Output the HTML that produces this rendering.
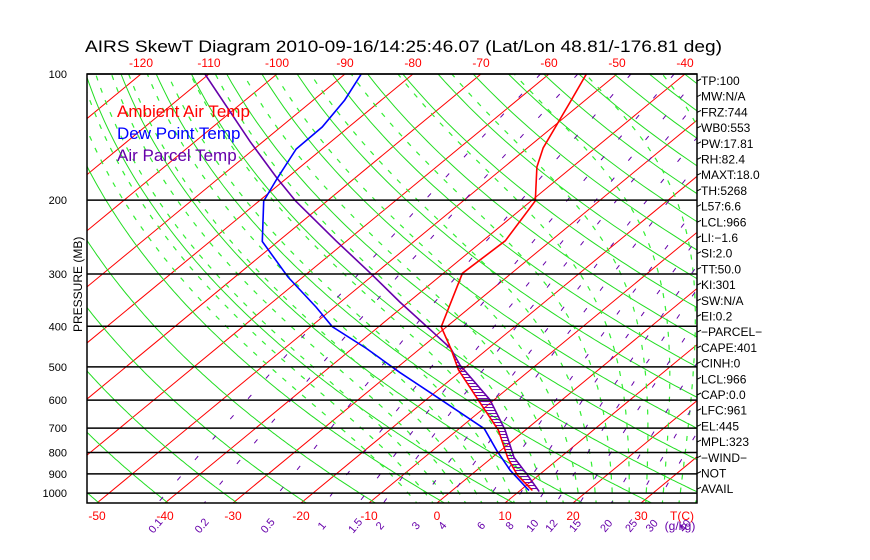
<!DOCTYPE html>
<html><head><meta charset="utf-8">
<style>
body{margin:0;background:#fff;}
svg{display:block;font-family:"Liberation Sans",sans-serif;}
</style></head>
<body>
<svg id="chart" width="870" height="560" viewBox="0 0 870 560" xmlns="http://www.w3.org/2000/svg">
<defs><clipPath id="plotclip"><rect x="87" y="74" width="610" height="429"/></clipPath></defs>
<text x="85" y="52" font-size="17" fill="#000" textLength="637" lengthAdjust="spacingAndGlyphs">AIRS SkewT Diagram 2010-09-16/14:25:46.07 (Lat/Lon 48.81/-176.81 deg)</text>
<g id="bg" clip-path="url(#plotclip)"></g>
<g id="series" clip-path="url(#plotclip)"></g>
<g id="axes"></g>
<text x="117" y="117" font-size="17" fill="#ff0000">Ambient Air Temp</text>
<text x="117" y="139" font-size="17" fill="#0000ff">Dew Point Temp</text>
<text x="117" y="161" font-size="17" fill="#6600aa">Air Parcel Temp</text>
<text x="0" y="0" font-size="12" fill="#000" transform="translate(82,332) rotate(-90)">PRESSURE (MB)</text>
</svg>
<script>
// ---- data ----
const tempP = [100,116.6,150,166.7,200.8,250,299,401,452,508,602,707,825,907,986];
const tempT = [-54.5,-51.9,-47.7,-45.2,-39.4,-36.7,-37.2,-30.8,-25.5,-20.6,-12.1,-4.0,2.4,6.9,11.8];
const dewP = [100,115.4,133.8,151,177,201,251,305,360,401,452,515,599,702,791,882,986];
const dewT = [-87.6,-85.4,-83.9,-83.8,-81.4,-79.3,-72.3,-62.2,-52.7,-46.8,-37.9,-28.8,-17.8,-6.3,-0.6,4.9,11.3];
const parP = [100,145,177,201,250,300,350,410,452,495,599,707,822,907,992];
const parT = [-110.6,-91.9,-81.5,-74.6,-61.6,-50.5,-41.3,-31.5,-25.5,-21.2,-10.6,-3.0,3.2,8.4,13.0];
const pressureLevels = [100,200,300,400,500,600,700,800,900,1000];
const topTicks = [-120,-110,-100,-90,-80,-70,-60,-50,-40];
const bottomTicks = [-50,-40,-30,-20,-10,0,10,20,30];
const mixLabels = ["0.1","0.2","0.5","1","1.5","2","3","4","6","8","10","12","15","20","25","30","40"];
const mixValues = [0.1,0.2,0.5,1,1.5,2,3,4,6,8,10,12,15,20,25,30,40];
const infoLines = ["TP:100","MW:N/A","FRZ:744","WB0:553","PW:17.81","RH:82.4","MAXT:18.0","TH:5268","L57:6.6","LCL:966","LI:\u22121.6","SI:2.0","TT:50.0","KI:301","SW:N/A","EI:0.2","\u2212PARCEL\u2212","CAPE:401","CINH:0","LCL:966","CAP:0.0","LFC:961","EL:445","MPL:323","\u2212WIND\u2212","NOT","AVAIL"];

const NS="http://www.w3.org/2000/svg";
const Y0=74,K=182,BOT=503,X0=437,SX=6.8,SK=520/429;
function yP(p){return Y0+K*Math.log(p/100);}
function xT(T,p){const y=yP(p);return X0+SX*T+(BOT-y)*SK;}
function el(tag,attrs,parent){const e=document.createElementNS(NS,tag);for(const k in attrs)e.setAttribute(k,attrs[k]);parent.appendChild(e);return e;}
const bg=document.getElementById('bg'),series=document.getElementById('series'),axes=document.getElementById('axes');
const pGrid=[];for(let p=100;p<=1070;p+=5)pGrid.push(p);
function ptsFn(f){return pGrid.map(p=>xT(f(p),p).toFixed(1)+','+yP(p).toFixed(1)).join(' ');}

// isotherms
for(let T=-170;T<=50;T+=10){
  const l=el('line',{x1:xT(T,1070),y1:yP(1070),x2:xT(T,100),y2:yP(100),stroke:'#ff0000','stroke-width':1},bg);
  
  
}
// dry adiabats
for(let th=200;th<=520;th+=10){
  const l=el('polyline',{points:ptsFn(p=>th*Math.pow(p/1000,0.2857)-273.15),fill:'none',stroke:'#22dd22','stroke-width':1},bg);
  
  
}
// moist adiabats
function es(T){return 6.112*Math.exp(17.67*T/(T+243.5));}
function step(pp,Tk,dp){const e=es(Tk-273.15),rs=0.622*e/(pp-e);const G=(287*Tk+2.5e6*rs)/(1004+2.5e6*2.5e6*rs*0.622/(287*Tk*Tk));return Tk+G*dp/pp;}
for(let T0=-6;T0<=44;T0+=2.5){
  const Tk=T0+273.15;
  let tk=Tk;for(let pp=1000;pp<1070;pp+=2){tk=step(pp,tk,2);}
  const all=[[1070,tk]];
  tk=Tk;for(let pp=1000;pp>=100;pp-=5){all.push([pp,tk]);tk=step(pp,tk,-5);}
  const l=el('polyline',{points:all.map(a=>xT(a[1]-273.15,a[0]).toFixed(1)+','+yP(a[0]).toFixed(1)).join(' '),fill:'none',stroke:'#33ee33','stroke-width':1.2,'stroke-dasharray':'5 8'},bg);
  
  
}
// mixing ratio lines
function tdW(w,p){const e=w*p/(622+w);const a=Math.log(e/6.112);return 243.5*a/(17.67-a);}
mixValues.forEach((w,i)=>{
  const l=el('polyline',{points:ptsFn(p=>tdW(w,p)),fill:'none',stroke:'#6600aa','stroke-width':1,'stroke-dasharray':'5 22'},bg);
  
  
  const x=xT(tdW(w,1000),1000)-8;
  const t=el('text',{x:0,y:0,'font-size':11,fill:'#6600aa',transform:`translate(${x.toFixed(1)},528) rotate(-50)`,'text-anchor':'middle'},axes);
  t.textContent=mixLabels[i];
  
  
});
// pressure lines
pressureLevels.forEach(p=>{
  const y=yP(p);
  const l=el('line',{x1:87,y1:y,x2:697,y2:y,stroke:'#000','stroke-width':1.5},axes);
  
  
  const t=el('text',{x:67,y:y+4,'font-size':11,fill:'#000','text-anchor':'end'},axes);
  t.textContent=p;
  
  
});
const box=el('rect',{x:87,y:74,width:610,height:429,fill:'none',stroke:'#000','stroke-width':1.5},axes);


topTicks.forEach(T=>{
  const t=el('text',{x:xT(T,100),y:67,'font-size':12,fill:'#ff0000','text-anchor':'middle'},axes);
  t.textContent=T;
  
  
});
bottomTicks.forEach(T=>{
  const t=el('text',{x:X0+SX*T,y:520,'font-size':12,fill:'#ff0000','text-anchor':'middle'},axes);
  t.textContent=T;
  
  
});
let tc=el('text',{x:682,y:520,'font-size':12,fill:'#ff0000','text-anchor':'middle'},axes);tc.textContent='T(C)';


let wu=el('text',{x:680,y:530,'font-size':12,fill:'#6600aa','text-anchor':'middle'},axes);wu.textContent='(g/kg)';


// info text
infoLines.forEach((s,i)=>{
  const y=85+i*15.7;
  const l=el('line',{x1:697,y1:y-4,x2:701,y2:y-6,stroke:'#000'},axes);
  
  
  const t=el('text',{x:701,y:y,'font-size':12,fill:'#000'},axes);
  t.textContent=s;
  
  
});
// hatch CAPE area
function interp(P,T,p){for(let i=0;i<P.length-1;i++){if(p>=P[i]&&p<=P[i+1]){const f=Math.log(p/P[i])/Math.log(P[i+1]/P[i]);return T[i]+f*(T[i+1]-T[i]);}}return null;}
for(let y=yP(452)+2;y<yP(990);y+=3){
  const p=100*Math.exp((y-Y0)/K);
  const a=interp(tempP,tempT,p),b=interp(parP,parT,p);
  if(a==null||b==null||b<=a)continue;
  const h=el('line',{x1:xT(a,p),y1:y,x2:xT(b,p),y2:y,stroke:'#6600aa','stroke-width':1},series);
  
  
}
function drawSeries(P,T,color,name){
  const l=el('polyline',{points:P.map((p,i)=>xT(T[i],p).toFixed(1)+','+yP(p).toFixed(1)).join(' '),fill:'none',stroke:color,'stroke-width':1.6},series);
  
  
}
drawSeries(parP,parT,'#6600aa','parcel-temp-line');
drawSeries(dewP,dewT,'#0000ff','dewpoint-line');
drawSeries(tempP,tempT,'#ff0000','air-temp-line');
</script>
</body></html>
